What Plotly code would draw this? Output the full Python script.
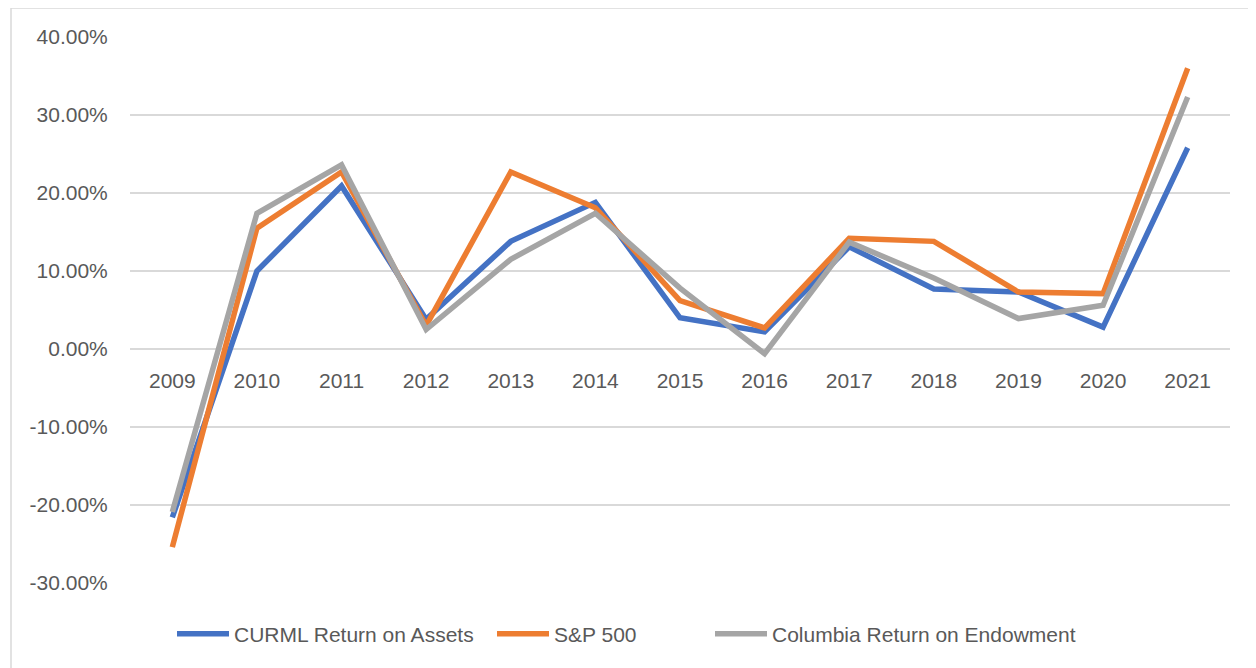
import plotly.graph_objects as go

years = ["2009", "2010", "2011", "2012", "2013", "2014", "2015",
         "2016", "2017", "2018", "2019", "2020", "2021"]

curml = [-0.216, 0.100, 0.209, 0.038, 0.138, 0.188, 0.040,
         0.022, 0.131, 0.077, 0.073, 0.028, 0.258]
sp500 = [-0.254, 0.155, 0.227, 0.030, 0.227, 0.181, 0.062,
         0.027, 0.142, 0.138, 0.073, 0.071, 0.360]
columbia = [-0.209, 0.174, 0.236, 0.025, 0.115, 0.174, 0.078,
            -0.006, 0.137, 0.091, 0.039, 0.056, 0.323]

y_ticks = [-0.30, -0.20, -0.10, 0.0, 0.10, 0.20, 0.30, 0.40]
y_labels = [f"{v:.2%}" for v in y_ticks]

series = [
    ("CURML Return on Assets", curml, "#4472C4", "legend"),
    ("S&P 500", sp500, "#ED7D31", "legend2"),
    ("Columbia Return on Endowment", columbia, "#A5A5A5", "legend3"),
]

font_family = "Liberation Sans Narrow, Liberation Sans, Arial, sans-serif"
text_color = "#595959"

fig = go.Figure()
for name, vals, color, leg in series:
    fig.add_trace(go.Scatter(x=years, y=vals, mode="lines", name=name, legend=leg,
                             line=dict(color=color, width=5.5)))


def px_x(p):
    # page pixel -> paper x (plot area runs 130..1230)
    return (p - 130) / 1100


leg_y = (583 - 634) / 546
leg_style = dict(orientation="h", xanchor="left", y=leg_y, yanchor="middle",
                 font=dict(size=21, color=text_color), itemwidth=52)

# page body has an 8px margin, so margins are shifted by 8
fig.update_layout(
    width=1256, height=668,
    margin=dict(l=122, r=34, t=29, b=93),
    plot_bgcolor="white", paper_bgcolor="white",
    font=dict(family=font_family, size=21, color=text_color),
    showlegend=True,
    legend=dict(x=px_x(172), **leg_style),
    legend2=dict(x=px_x(492), **leg_style),
    legend3=dict(x=px_x(710), **leg_style),
    xaxis=dict(type="category", range=[-0.5, 12.5], showgrid=False,
               anchor="free", position=30 / 70, showline=False,
               ticks="outside", ticklen=0, ticklabelstandoff=13),
    yaxis=dict(range=[-0.30, 0.40], tickvals=y_ticks, ticktext=y_labels,
               showgrid=True, gridcolor="#D9D9D9", gridwidth=1.5,
               zeroline=False, showline=False,
               ticks="outside", ticklen=0, ticklabelstandoff=17),
    shapes=[dict(type="rect", xref="paper", yref="paper",
                 x0=(11 - 130) / 1100, x1=(1300 - 130) / 1100,
                 y0=(583 - 700) / 546, y1=(583 - 8) / 546,
                 line=dict(color="#D9D9D9", width=1.5), layer="below")],
)

fig.write_html("out.html")
